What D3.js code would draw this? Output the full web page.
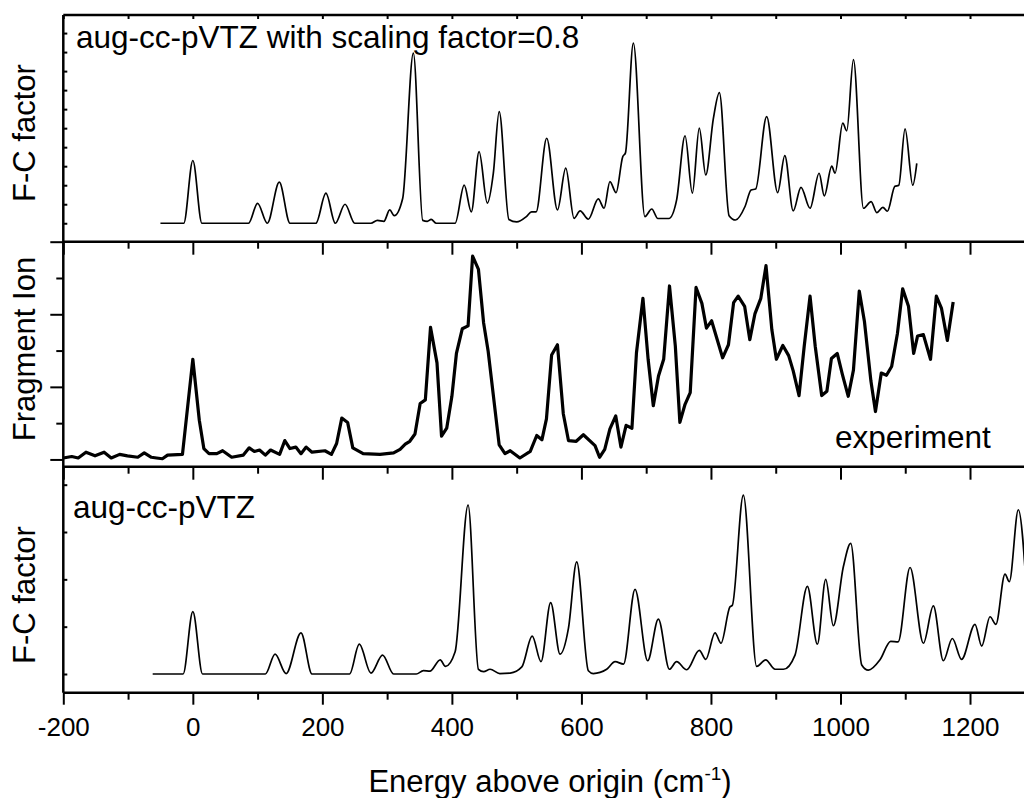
<!DOCTYPE html>
<html>
<head>
<meta charset="utf-8">
<script src="https://cdn.jsdelivr.net/npm/d3@7"></script>
<style>
  body { margin: 0; background: #fff; }
  text { font-family: "Liberation Sans", Arial, sans-serif; fill: #000; }
</style>
</head>
<body>
<svg id="chart"></svg>
<script>
// Spectra (energy in cm-1, intensity in tick units)
const scaledEnergy = [-50,-14,0,14,86,100,115,133.5,150,190,205.5,220,235,250,275,285,295,304,311,324,340.5,355,362,368,376,
  405,419,430,442,454.7,464,473,488,500,515,523,530,546.4,563,575.8,588.6,598,610.7,626,635,644,653.5,663.8,668,680.2,698,
  708.6,718,735,747,760,771.3,782,792,803.7,813,828,838,852.6,862,869,886,903,914,927,939,953,967,975,986.5,991.6,1003.5,
  1009.7,1020,1035.5,1047.3,1056,1065.5,1072.4,1084,1090,1099.7,1111.6,1117.8];
const scaledFC = [0,0,3.3,0,0,1.05,0,2.16,0,0,1.58,0,1.0,0,0,0.15,0.1,0.7,0.4,1.3,8.95,0.15,0.1,0.2,0,
  0,2.0,0.6,3.77,1.06,2.64,5.87,0.2,0.07,0.35,0.6,0.6,4.47,0.7,2.9,0.26,0.65,0.21,1.28,0.79,2.19,1.61,3.5,3.7,9.47,0.35,
  0.75,0.25,0.25,1.23,4.6,1.58,5.0,2.54,5.5,6.87,0.4,0.17,0.88,1.75,1.8,5.61,1.61,3.56,0.65,1.89,0.79,2.63,1.44,3.0,2.63,5.26,
  4.86,8.6,0.79,1.14,0.56,0.84,0.63,1.94,2.0,4.96,2.0,3.15];

const exptEnergy = [-200,-187,-177,-165,-151,-137,-126,-113,-101,-85,-75,-64,-56,-47,-39,-16,0,10,17,25,37,46,60,78,87,95,103,
  112,120,134,142,150,159,167,175,184,204,214,222,230,239,247,263,289,310,320,328,335,343,351,359,367,377,384,392,400,407,
  416,425,432,441,449,456,473,482,490,505,521,531,539,546,554,563,572,580,592,603,621,628,636,644,653,661,669,678,685,695,
  703,711,719,727,736,745,752,760,768,777,786,793,801,818,827,835,842,852,860,868,877,885,894,901,911,920,927,936,944,953,
  961,971,979,986,995,1003,1012,1020,1029,1037,1047,1054,1063,1071,1079,1088,1096,1105,1113,1119,1128,1139,1148,1156,1165,1174];
const exptSignal = [0.02,0.04,0.02,0.10,0.05,0.10,0.02,0.07,0.05,0.03,0.09,0.03,0.02,0.01,0.06,0.07,1.38,0.54,0.15,0.08,0.08,
  0.12,0.03,0.06,0.16,0.11,0.13,0.06,0.13,0.07,0.26,0.15,0.17,0.08,0.17,0.10,0.12,0.07,0.22,0.57,0.51,0.16,0.08,0.07,0.09,
  0.14,0.21,0.25,0.35,0.77,0.82,1.82,1.33,0.32,0.43,0.87,1.46,1.80,1.84,2.80,2.62,1.88,1.49,0.20,0.08,0.12,0.02,0.11,0.33,
  0.27,0.56,1.44,1.58,0.63,0.26,0.25,0.34,0.19,0.03,0.14,0.42,0.60,0.17,0.47,0.43,1.47,2.22,1.38,0.74,1.15,1.38,2.39,1.56,
  0.51,0.76,0.92,2.37,2.15,1.81,1.91,1.40,1.58,2.16,2.25,2.11,1.65,2.01,2.22,2.67,1.79,1.38,1.57,1.43,1.22,0.88,1.56,2.25,
  1.56,0.88,0.94,1.39,1.46,1.17,0.87,1.23,2.32,1.90,1.08,0.66,1.19,1.16,1.28,1.74,2.35,2.11,1.46,1.70,1.72,1.38,2.25,2.08,
  1.64,2.17];

const calcEnergy = [-62,-15,0,15,112,127,144,167,184,242,257,275,293,310,345,356,366,382,390,405,425,441,449,459,474,490,508,
  524,537.6,552.5,567,580,592.7,610.7,618.4,639,652,665,682.8,702.3,718.8,735.8,747,762.5,782,792,806.3,815.5,829.4,833,850,
  870.6,884.5,899,912,929.8,948.9,964.3,977.2,989,1004.5,1015.8,1032.8,1043,1061,1077.5,1089,1107.4,1128,1143.4,1158.8,
  1172.7,1187,1207.7,1218,1230.9,1240,1254,1260.7,1274.6,1288];
const calcFC = [0,0,1.32,0,0,0.42,0.01,0.87,0,0,0.63,0.02,0.4,0,0,0.07,0.06,0.3,0.16,0.47,3.57,0.1,0.05,0.1,0.01,0.02,0.15,
  0.80,0.26,1.51,0.42,0.97,2.37,0.07,0.01,0.1,0.26,0.21,1.79,0.28,1.16,0.1,0.26,0.09,0.5,0.31,0.87,0.65,1.42,1.45,3.78,
  0.16,0.3,0.1,0.1,0.4,1.85,0.63,2.0,1.02,2.27,2.76,0.19,0.08,0.3,0.69,0.68,2.25,0.65,1.44,0.28,
  0.75,0.31,1.05,0.59,1.21,1.05,2.11,1.95,3.47,1.6];

const xMajorTicks = [-200, 0, 200, 400, 600, 800, 1000, 1200];
const xMinorTicks = [-100, 100, 300, 500, 700, 900, 1100];
const topYTicks = [0,1,2,3,4,5,6,7,8,9,10];
const midYMajor = [0, 1, 2, 3];
const midYMinor = [0.5, 1.5, 2.5];
const botYTicks = [0, 1, 2, 3, 4];

const width = 1024, height = 798;
const left = 63.3;

const svg = d3.select("#chart").attr("width", width).attr("height", height);

const x = d3.scaleLinear().domain([-200, 1290]).range([left, 1028.3]);

// three stacked panels
const yTop = d3.scaleLinear().domain([-0.97, 10.95]).range([241.7, 15]);
const yMid = d3.scaleLinear().domain([-0.1, 3.0]).range([466.7, 241.7]);
const yBot = d3.scaleLinear().domain([-0.395, 4.38]).range([692.7, 466.7]);

function styleAxis(g) {
  g.select(".domain").remove();
  g.selectAll("line").attr("stroke", "#000").attr("stroke-width", 2);
}

function addAxis(axis, tx, ty) {
  return svg.append("g").attr("transform", `translate(${tx},${ty})`).call(axis).call(styleAxis);
}

// x ticks along the panel borders
addAxis(d3.axisBottom(x).tickValues(xMajorTicks.concat(xMinorTicks)).tickSize(4).tickFormat(""), 0, 15);
[241.7, 466.7].forEach(yy => {
  addAxis(d3.axisBottom(x).tickValues(xMajorTicks).tickSize(13).tickFormat(""), 0, yy);
  addAxis(d3.axisBottom(x).tickValues(xMinorTicks).tickSize(7).tickFormat(""), 0, yy);
});
addAxis(d3.axisBottom(x).tickValues(xMinorTicks).tickSize(7).tickFormat(""), 0, 692.7);
const bottomAxis = addAxis(d3.axisBottom(x).tickValues(xMajorTicks).tickSize(12).tickFormat(d => String(d)), 0, 692.7);
bottomAxis.selectAll("text").attr("y", 25).attr("font-size", 26).attr("font-family", null);

// y ticks
addAxis(d3.axisRight(yTop).tickValues(topYTicks).tickSize(4).tickFormat(""), left, 0);
addAxis(d3.axisLeft(yMid).tickValues(midYMajor).tickSize(13).tickFormat(""), left, 0);
addAxis(d3.axisLeft(yMid).tickValues(midYMinor).tickSize(7).tickFormat(""), left, 0);
addAxis(d3.axisRight(yBot).tickValues(botYTicks).tickSize(4).tickFormat(""), left, 0);

// frame lines
const frame = svg.append("g").attr("stroke", "#000").attr("stroke-width", 2.5);
[15, 241.7, 466.7, 692.7].forEach(yy => {
  frame.append("line").attr("x1", left).attr("x2", width).attr("y1", yy).attr("y2", yy);
});
frame.append("line").attr("x1", left).attr("x2", left).attr("y1", 15).attr("y2", 692.7);

// curves
function drawCurve(xs, ys, yScale, curve, sw) {
  const pts = xs.map((e, i) => [e, ys[i]]);
  const line = d3.line().x(d => x(d[0])).y(d => yScale(d[1])).curve(curve);
  svg.append("path").datum(pts)
    .attr("d", line)
    .attr("fill", "none")
    .attr("stroke", "#000")
    .attr("stroke-width", sw)
    .attr("stroke-linejoin", "round");
}

drawCurve(scaledEnergy, scaledFC, yTop, d3.curveMonotoneX, 1.7);
drawCurve(exptEnergy, exptSignal, yMid, d3.curveLinear, 3.2);
drawCurve(calcEnergy, calcFC, yBot, d3.curveMonotoneX, 1.7);

// labels
svg.append("text").attr("x", 76).attr("y", 48).attr("font-size", 31.5).text("aug-cc-pVTZ with scaling factor=0.8");
svg.append("text").attr("x", 835).attr("y", 448).attr("font-size", 31.5).text("experiment");
svg.append("text").attr("x", 73).attr("y", 518).attr("font-size", 31.5).text("aug-cc-pVTZ");

function yTitle(txt, cy) {
  svg.append("text")
    .attr("transform", `translate(35,${cy}) rotate(-90)`)
    .attr("text-anchor", "middle")
    .attr("font-size", 31)
    .text(txt);
}
yTitle("F-C factor", 133);
yTitle("Fragment Ion", 349);
yTitle("F-C factor", 595);

const title = svg.append("text")
  .attr("x", 550).attr("y", 792)
  .attr("text-anchor", "middle")
  .attr("font-size", 31);
title.append("tspan").text("Energy above origin (cm");
title.append("tspan").attr("dy", -12).attr("font-size", 19).text("-1");
title.append("tspan").attr("dy", 12).text(")");
</script>
</body>
</html>
